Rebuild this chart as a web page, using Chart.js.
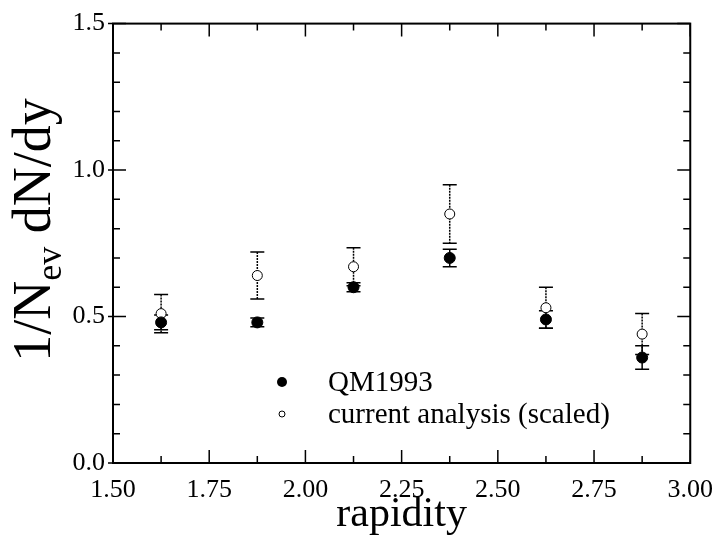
<!DOCTYPE html>
<html lang="en">
<head>
<meta charset="UTF-8">
<title>rapidity distribution</title>
<style>
  body { margin: 0; background: #fff; }
  #wrap { width: 725px; height: 540px; }
</style>
</head>
<body>
<div id="wrap"><canvas id="chart" width="725" height="540"></canvas></div>
<script src="https://cdn.jsdelivr.net/npm/chart.js"></script>
<script>
  // values
  const rapidity = [1.625, 1.875, 2.125, 2.375, 2.625, 2.875];
  const qm1993 = [0.48, 0.48, 0.60, 0.70, 0.49, 0.36];
  const qm1993Err = [0.025, 0.015, 0.015, 0.03, 0.03, 0.04];
  const current = [0.51, 0.64, 0.67, 0.85, 0.53, 0.44];
  const currentErr = [0.065, 0.08, 0.065, 0.10, 0.07, 0.07];
  const seriesNames = ['QM1993', 'current analysis (scaled)'];

  const serif = "'Liberation Serif', 'Times New Roman', serif";

  function pts(ys) {
    return rapidity.map((x, i) => ({ x: x, y: ys[i] }));
  }

  // error bars, frame, inside ticks, y title and legend
  const decor = {
    id: 'decor',
    beforeDatasetsDraw(chart) {
      const ctx = chart.ctx, xs = chart.scales.x, ys = chart.scales.y;
      const sets = [[qm1993, qm1993Err, []], [current, currentErr, [2, 1]]];
      ctx.save();
      ctx.strokeStyle = '#000';
      ctx.lineWidth = 1.5;
      sets.forEach(([vals, errs, dash]) => {
        vals.forEach((v, i) => {
          const px = xs.getPixelForValue(rapidity[i]);
          const top = ys.getPixelForValue(v + errs[i]);
          const bot = ys.getPixelForValue(v - errs[i]);
          ctx.setLineDash(dash);
          ctx.beginPath();
          ctx.moveTo(px, top); ctx.lineTo(px, bot);
          ctx.stroke();
          ctx.setLineDash([]);
          ctx.beginPath();
          ctx.moveTo(px - 7, top); ctx.lineTo(px + 7, top);
          ctx.moveTo(px - 7, bot); ctx.lineTo(px + 7, bot);
          ctx.stroke();
        });
      });
      ctx.restore();
    },
    afterDraw(chart) {
      const ctx = chart.ctx, a = chart.chartArea;
      const xs = chart.scales.x, ys = chart.scales.y;
      ctx.save();
      ctx.strokeStyle = '#000';
      ctx.lineWidth = 2;
      ctx.strokeRect(a.left, a.top, a.right - a.left, a.bottom - a.top);
      ctx.lineWidth = 1.5;
      ctx.beginPath();
      xs.ticks.forEach(t => {
        const px = xs.getPixelForValue(t.value);
        const len = t.label ? 13 : 7;
        ctx.moveTo(px, a.bottom); ctx.lineTo(px, a.bottom - len);
        ctx.moveTo(px, a.top); ctx.lineTo(px, a.top + len);
      });
      ys.ticks.forEach(t => {
        const py = ys.getPixelForValue(t.value);
        const major = !!t.label;
        ctx.moveTo(a.left - (major ? 5 : 0), py); ctx.lineTo(a.left + (major ? 13 : 7), py);
        ctx.moveTo(a.right, py); ctx.lineTo(a.right - (major ? 13 : 7), py);
      });
      ctx.stroke();

      // y axis title with subscript
      ctx.fillStyle = '#000';
      ctx.translate(36, 230);
      ctx.rotate(-Math.PI / 2);
      const big = '54px ' + serif, small = '36px ' + serif;
      ctx.font = big;
      const w1 = ctx.measureText('1/N').width;
      const w3 = ctx.measureText(' dN/dy').width;
      ctx.font = small;
      const w2 = ctx.measureText('ev').width;
      let x0 = -(w1 + w2 + w3) / 2;
      ctx.textBaseline = 'middle';
      ctx.font = big;
      ctx.fillText('1/N', x0, 0);
      ctx.font = small;
      ctx.fillText('ev', x0 + w1, 16);
      ctx.font = big;
      ctx.fillText(' dN/dy', x0 + w1 + w2, 0);
      ctx.restore();

      // legend
      ctx.save();
      ctx.fillStyle = '#000';
      ctx.font = '29px ' + serif;
      ctx.textBaseline = 'middle';
      ctx.beginPath();
      ctx.arc(282, 382, 5, 0, Math.PI * 2);
      ctx.fill();
      ctx.fillText(seriesNames[0], 328, 383);
      ctx.beginPath();
      ctx.arc(282, 414, 3, 0, Math.PI * 2);
      ctx.strokeStyle = '#000';
      ctx.lineWidth = 1;
      ctx.stroke();
      ctx.fillText(seriesNames[1], 328, 415);
      ctx.restore();
    }
  };

  new Chart(document.getElementById('chart'), {
    type: 'scatter',
    data: {
      datasets: [
        {
          label: seriesNames[0],
          data: pts(qm1993),
          pointRadius: 5.5,
          pointBackgroundColor: '#000',
          pointBorderColor: '#000',
          pointBorderWidth: 1
        },
        {
          label: seriesNames[1],
          data: pts(current),
          pointRadius: 5,
          pointBackgroundColor: '#fff',
          pointBorderColor: '#000',
          pointBorderWidth: 1
        }
      ]
    },
    options: {
      responsive: false,
      animation: false,
      events: [],
      layout: { padding: { top: 20, right: 24, left: 0, bottom: 0 } },
      plugins: { legend: { display: false }, tooltip: { enabled: false } },
      scales: {
        x: {
          type: 'linear',
          min: 1.5,
          max: 3.0,
          grid: { display: false, drawTicks: false },
          border: { display: false },
          afterFit(s) { s.height = 77; },
          ticks: {
            stepSize: 0.125,
            autoSkip: false,
            maxRotation: 0,
            padding: 12,
            color: '#000',
            font: { family: serif, size: 26 },
            callback: v => Math.abs(v * 4 - Math.round(v * 4)) < 1e-6 ? v.toFixed(2) : ''
          },
          title: {
            display: true,
            text: 'rapidity',
            color: '#000',
            font: { family: serif, size: 42, lineHeight: 1 },
            padding: { top: 0, bottom: 4 }
          }
        },
        y: {
          min: 0,
          max: 1.5,
          grid: { display: false, drawTicks: false },
          border: { display: false },
          afterFit(s) { s.width = 113; },
          ticks: {
            stepSize: 0.1,
            autoSkip: false,
            padding: 8,
            color: '#000',
            font: { family: serif, size: 26 },
            callback: v => Math.abs(v * 2 - Math.round(v * 2)) < 1e-6 ? v.toFixed(1) : ''
          }
        }
      }
    },
    plugins: [decor]
  });
</script>
</body>
</html>
